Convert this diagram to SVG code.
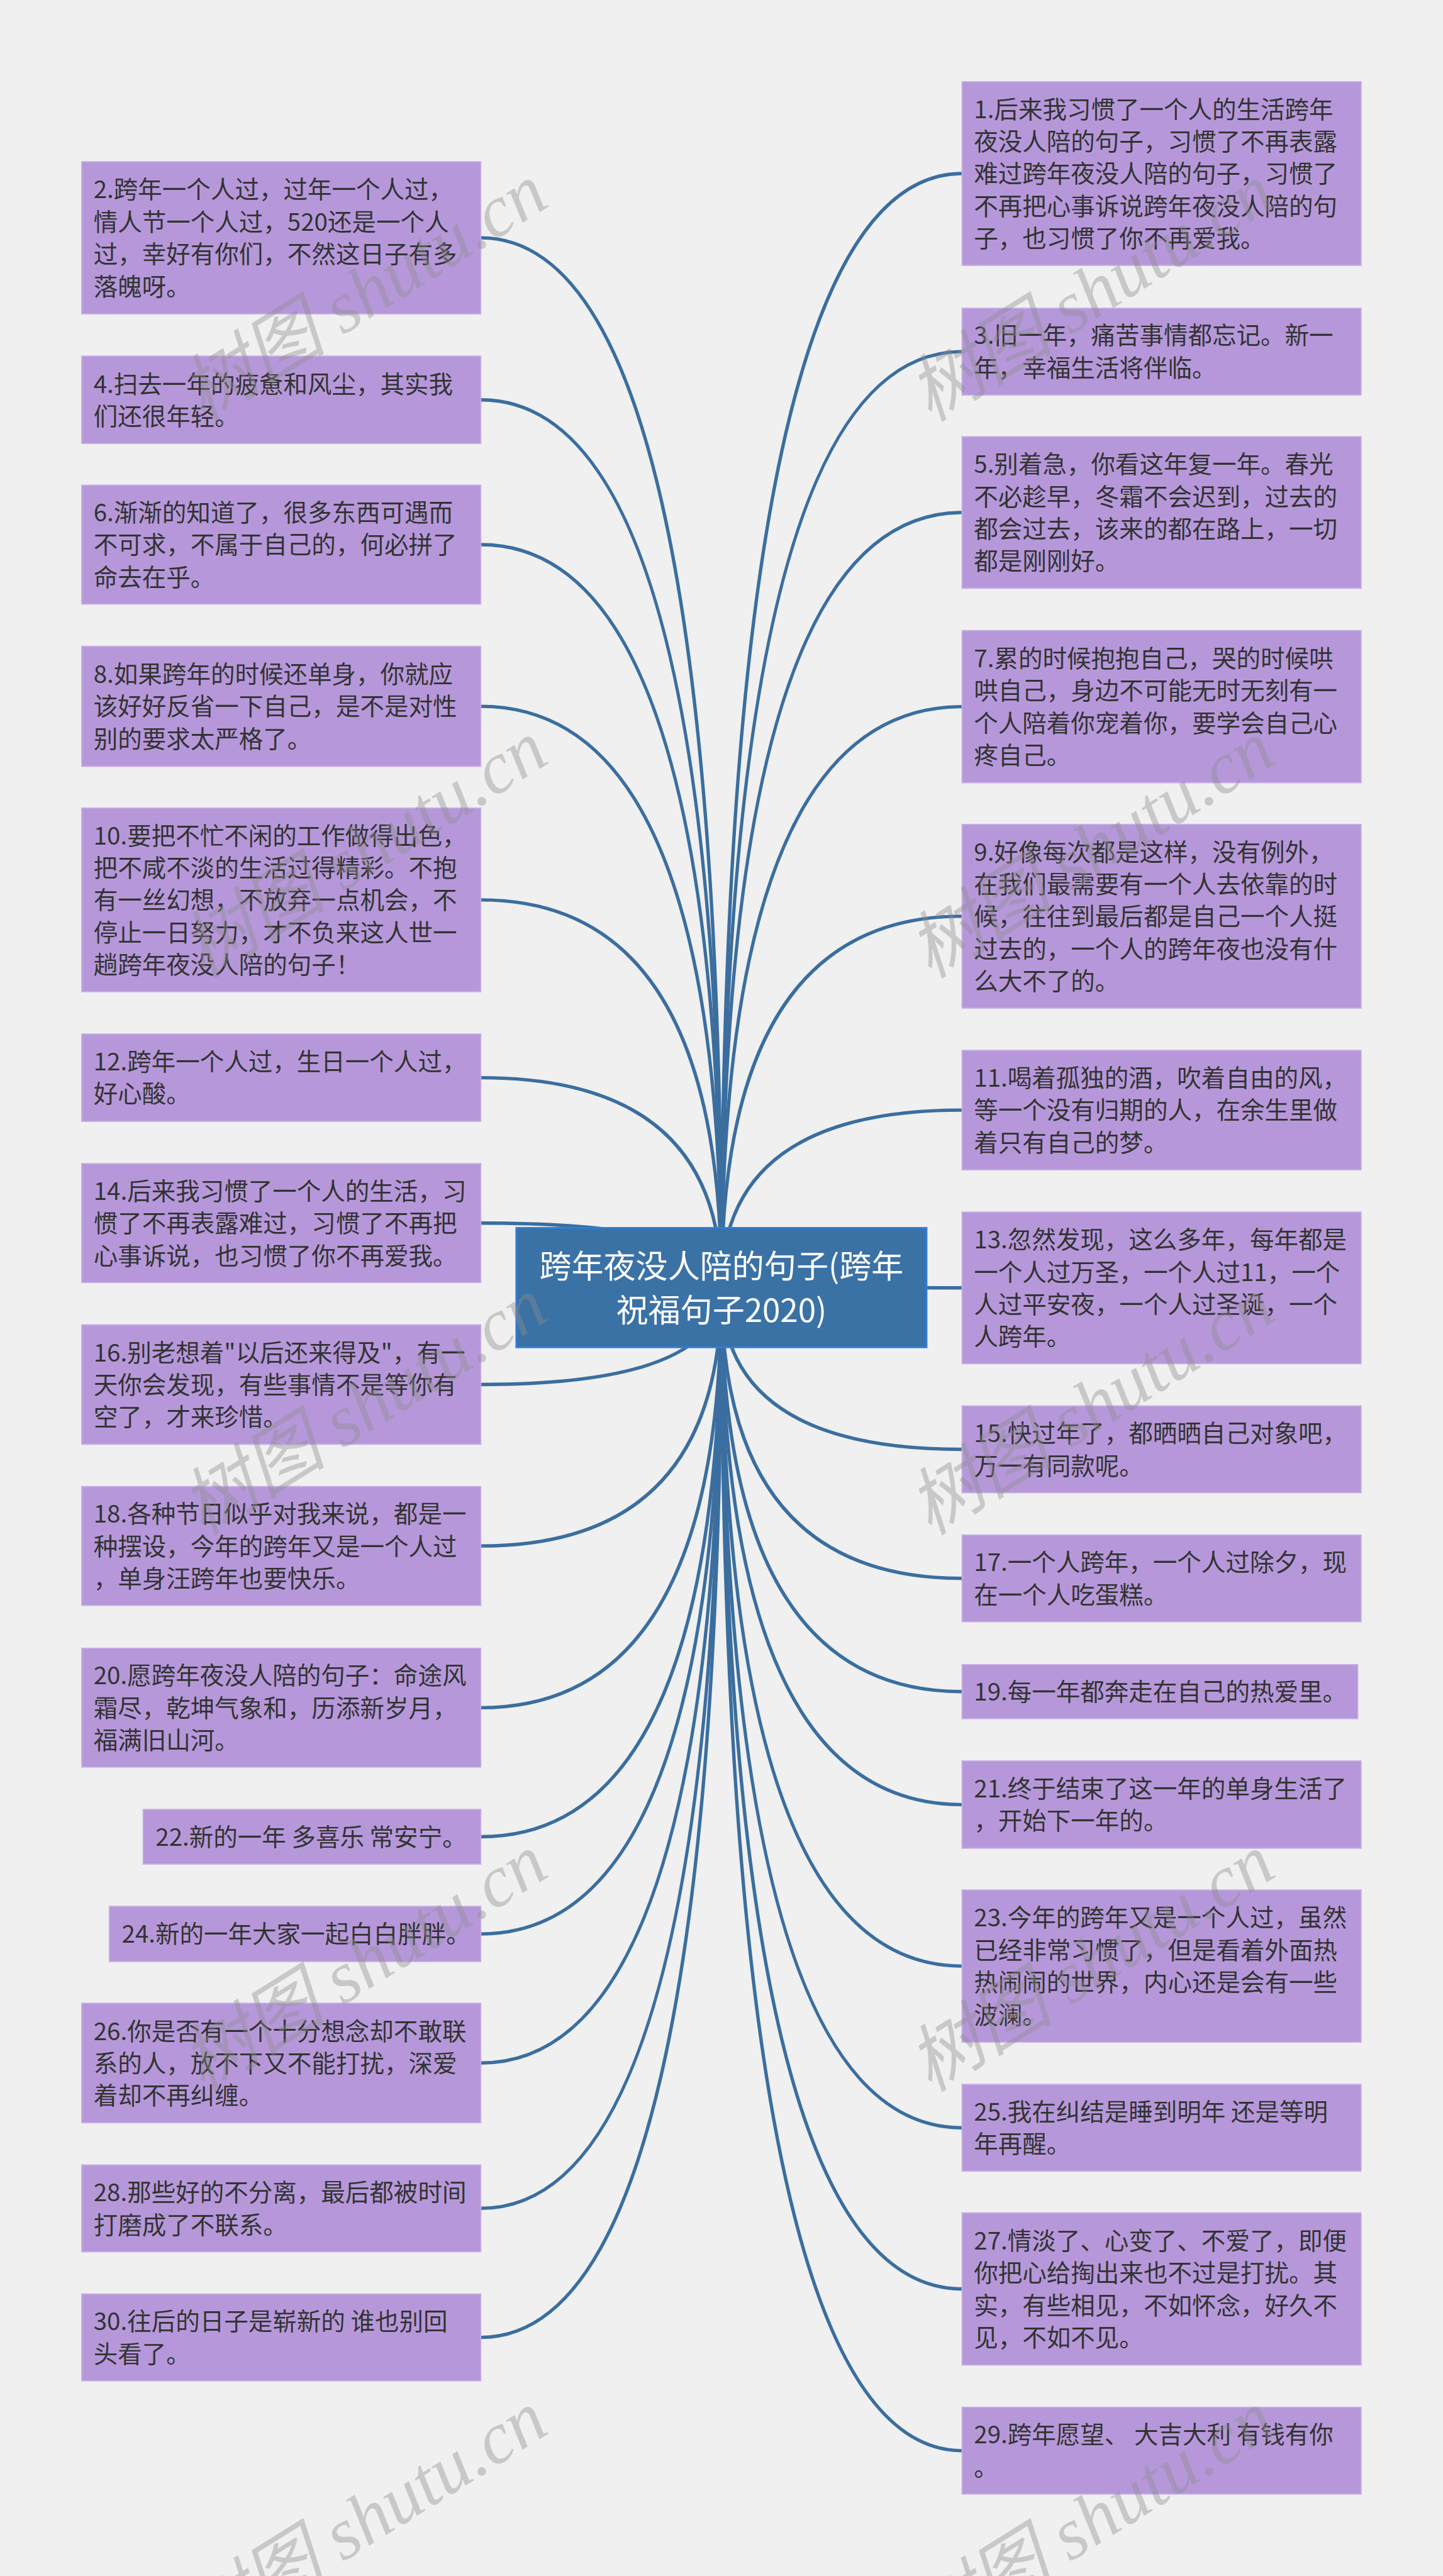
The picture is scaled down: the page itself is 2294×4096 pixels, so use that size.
<svg xmlns="http://www.w3.org/2000/svg" width="2294" height="4096" viewBox="0 0 2294 4096">
<style>
.bx{fill:#b698da;stroke:#c6aee6;stroke-width:2}
.tx{font-family:"Noto Sans CJK SC","Noto Sans",sans-serif;font-size:43px;fill:#333333}
.ln{fill:none;stroke:#3b6e9f;stroke-width:6}
.rb{fill:#3b72a5;stroke:#2f7fdb;stroke-width:3}
.rt{font-family:"Noto Sans CJK SC","Noto Sans",sans-serif;font-size:57px;fill:#ffffff;text-anchor:middle}
.wm{font-family:"Liberation Serif","Noto Sans CJK SC",serif;font-style:italic;font-size:130px;fill:#8c8c8c;fill-opacity:0.4}
</style>
<rect x="0" y="0" width="2294" height="4096" fill="#f0f0f0"/>
<g transform="scale(0.896)">
<g id="connectors">
<path class="ln" d="M1280,2285 Q1280,422 853,422"/>
<path class="ln" d="M1280,2285 Q1280,709.5 853,709.5"/>
<path class="ln" d="M1280,2285 Q1280,966.5 853,966.5"/>
<path class="ln" d="M1280,2285 Q1280,1253.5 853,1253.5"/>
<path class="ln" d="M1280,2285 Q1280,1597 853,1597"/>
<path class="ln" d="M1280,2285 Q1280,1912.5 853,1912.5"/>
<path class="ln" d="M1280,2285 Q1280,2170.5 853,2170.5"/>
<path class="ln" d="M1280,2285 Q1280,2457 853,2457"/>
<path class="ln" d="M1280,2285 Q1280,2743.5 853,2743.5"/>
<path class="ln" d="M1280,2285 Q1280,3030.5 853,3030.5"/>
<path class="ln" d="M1280,2285 Q1280,3259.5 853,3259.5"/>
<path class="ln" d="M1280,2285 Q1280,3432 853,3432"/>
<path class="ln" d="M1280,2285 Q1280,3661 853,3661"/>
<path class="ln" d="M1280,2285 Q1280,3919 853,3919"/>
<path class="ln" d="M1280,2285 Q1280,4148 853,4148"/>
<path class="ln" d="M1280,2285 Q1280,308 1707,308"/>
<path class="ln" d="M1280,2285 Q1280,624 1707,624"/>
<path class="ln" d="M1280,2285 Q1280,909.5 1707,909.5"/>
<path class="ln" d="M1280,2285 Q1280,1254 1707,1254"/>
<path class="ln" d="M1280,2285 Q1280,1626 1707,1626"/>
<path class="ln" d="M1280,2285 Q1280,1970 1707,1970"/>
<path class="ln" d="M1280,2285 Q1280,2285.5 1707,2285.5"/>
<path class="ln" d="M1280,2285 Q1280,2572 1707,2572"/>
<path class="ln" d="M1280,2285 Q1280,2801 1707,2801"/>
<path class="ln" d="M1280,2285 Q1280,3002 1707,3002"/>
<path class="ln" d="M1280,2285 Q1280,3202.5 1707,3202.5"/>
<path class="ln" d="M1280,2285 Q1280,3489 1707,3489"/>
<path class="ln" d="M1280,2285 Q1280,3776 1707,3776"/>
<path class="ln" d="M1280,2285 Q1280,4062 1707,4062"/>
<path class="ln" d="M1280,2285 Q1280,4349 1707,4349"/>
</g>
<g id="root">
<rect class="rb" x="916" y="2179" width="728" height="212"/>
<text class="rt" x="1280" y="2268">跨年夜没人陪的句子(跨年</text>
<text class="rt" x="1280" y="2346">祝福句子2020)</text>
</g>
<g id="n2"><rect class="bx" x="145" y="287" width="708" height="270"/>
<text class="tx" x="166" y="352">2.跨年一个人过，过年一个人过，</text>
<text class="tx" x="166" y="409.4">情人节一个人过，520还是一个人</text>
<text class="tx" x="166" y="466.7">过，幸好有你们，不然这日子有多</text>
<text class="tx" x="166" y="524">落魄呀。</text></g>
<g id="n4"><rect class="bx" x="145" y="632" width="708" height="155"/>
<text class="tx" x="166" y="697">4.扫去一年的疲惫和风尘，其实我</text>
<text class="tx" x="166" y="754">们还很年轻。</text></g>
<g id="n6"><rect class="bx" x="145" y="861" width="708" height="211"/>
<text class="tx" x="166" y="925">6.渐渐的知道了，很多东西可遇而</text>
<text class="tx" x="166" y="982.5">不可求，不属于自己的，何必拼了</text>
<text class="tx" x="166" y="1040">命去在乎。</text></g>
<g id="n8"><rect class="bx" x="145" y="1147" width="708" height="213"/>
<text class="tx" x="166" y="1212">8.如果跨年的时候还单身，你就应</text>
<text class="tx" x="166" y="1269.5">该好好反省一下自己，是不是对性</text>
<text class="tx" x="166" y="1327">别的要求太严格了。</text></g>
<g id="n10"><rect class="bx" x="145" y="1434" width="708" height="326"/>
<text class="tx" x="166" y="1498.4">10.要把不忙不闲的工作做得出色，</text>
<text class="tx" x="166" y="1555.7">把不咸不淡的生活过得精彩。不抱</text>
<text class="tx" x="166" y="1613">有一丝幻想，不放弃一点机会，不</text>
<text class="tx" x="166" y="1670.3">停止一日努力，才不负来这人世一</text>
<text class="tx" x="166" y="1727.6">趟跨年夜没人陪的句子！</text></g>
<g id="n12"><rect class="bx" x="145" y="1835" width="708" height="155"/>
<text class="tx" x="166" y="1900">12.跨年一个人过，生日一个人过，</text>
<text class="tx" x="166" y="1957">好心酸。</text></g>
<g id="n14"><rect class="bx" x="145" y="2065" width="708" height="211"/>
<text class="tx" x="166" y="2129">14.后来我习惯了一个人的生活，习</text>
<text class="tx" x="166" y="2186.5">惯了不再表露难过，习惯了不再把</text>
<text class="tx" x="166" y="2244">心事诉说，也习惯了你不再爱我。</text></g>
<g id="n16"><rect class="bx" x="145" y="2351" width="708" height="212"/>
<text class="tx" x="166" y="2416">16.别老想着"以后还来得及"，有一</text>
<text class="tx" x="166" y="2473">天你会发现，有些事情不是等你有</text>
<text class="tx" x="166" y="2530">空了，才来珍惜。</text></g>
<g id="n18"><rect class="bx" x="145" y="2638" width="708" height="211"/>
<text class="tx" x="166" y="2702">18.各种节日似乎对我来说，都是一</text>
<text class="tx" x="166" y="2759.5">种摆设，今年的跨年又是一个人过</text>
<text class="tx" x="166" y="2817">，单身汪跨年也要快乐。</text></g>
<g id="n20"><rect class="bx" x="145" y="2925" width="708" height="211"/>
<text class="tx" x="166" y="2989">20.愿跨年夜没人陪的句子：命途风</text>
<text class="tx" x="166" y="3046.5">霜尽，乾坤气象和，历添新岁月，</text>
<text class="tx" x="166" y="3104">福满旧山河。</text></g>
<g id="n22"><rect class="bx" x="254" y="3211" width="599" height="97"/>
<text class="tx" x="276" y="3275.5">22.新的一年 多喜乐 常安宁。</text></g>
<g id="n24"><rect class="bx" x="194" y="3383" width="659" height="98"/>
<text class="tx" x="216" y="3448">24.新的一年大家一起白白胖胖。</text></g>
<g id="n26"><rect class="bx" x="145" y="3555" width="708" height="212"/>
<text class="tx" x="166" y="3620">26.你是否有一个十分想念却不敢联</text>
<text class="tx" x="166" y="3677">系的人，放不下又不能打扰，深爱</text>
<text class="tx" x="166" y="3734">着却不再纠缠。</text></g>
<g id="n28"><rect class="bx" x="145" y="3842" width="708" height="154"/>
<text class="tx" x="166" y="3906">28.那些好的不分离，最后都被时间</text>
<text class="tx" x="166" y="3964">打磨成了不联系。</text></g>
<g id="n30"><rect class="bx" x="145" y="4071" width="708" height="154"/>
<text class="tx" x="166" y="4135">30.往后的日子是崭新的 谁也别回</text>
<text class="tx" x="166" y="4193">头看了。</text></g>
<g id="n1"><rect class="bx" x="1707" y="145" width="708" height="326"/>
<text class="tx" x="1728" y="209.4">1.后来我习惯了一个人的生活跨年</text>
<text class="tx" x="1728" y="266.7">夜没人陪的句子，习惯了不再表露</text>
<text class="tx" x="1728" y="324">难过跨年夜没人陪的句子，习惯了</text>
<text class="tx" x="1728" y="381.3">不再把心事诉说跨年夜没人陪的句</text>
<text class="tx" x="1728" y="438.6">子，也习惯了你不再爱我。</text></g>
<g id="n3"><rect class="bx" x="1707" y="547" width="708" height="154"/>
<text class="tx" x="1728" y="611">3.旧一年，痛苦事情都忘记。新一</text>
<text class="tx" x="1728" y="669">年，幸福生活将伴临。</text></g>
<g id="n5"><rect class="bx" x="1707" y="775" width="708" height="269"/>
<text class="tx" x="1728" y="839.5">5.别着急，你看这年复一年。春光</text>
<text class="tx" x="1728" y="897">不必趁早，冬霜不会迟到，过去的</text>
<text class="tx" x="1728" y="954">都会过去，该来的都在路上，一切</text>
<text class="tx" x="1728" y="1011.5">都是刚刚好。</text></g>
<g id="n7"><rect class="bx" x="1707" y="1119" width="708" height="270"/>
<text class="tx" x="1728" y="1184">7.累的时候抱抱自己，哭的时候哄</text>
<text class="tx" x="1728" y="1241.4">哄自己，身边不可能无时无刻有一</text>
<text class="tx" x="1728" y="1298.7">个人陪着你宠着你，要学会自己心</text>
<text class="tx" x="1728" y="1356">疼自己。</text></g>
<g id="n9"><rect class="bx" x="1707" y="1463" width="708" height="326"/>
<text class="tx" x="1728" y="1527.4">9.好像每次都是这样，没有例外，</text>
<text class="tx" x="1728" y="1584.7">在我们最需要有一个人去依靠的时</text>
<text class="tx" x="1728" y="1642">候，往往到最后都是自己一个人挺</text>
<text class="tx" x="1728" y="1699.3">过去的，一个人的跨年夜也没有什</text>
<text class="tx" x="1728" y="1756.6">么大不了的。</text></g>
<g id="n11"><rect class="bx" x="1707" y="1864" width="708" height="212"/>
<text class="tx" x="1728" y="1928.7">11.喝着孤独的酒，吹着自由的风，</text>
<text class="tx" x="1728" y="1986">等一个没有归期的人，在余生里做</text>
<text class="tx" x="1728" y="2043.3">着只有自己的梦。</text></g>
<g id="n13"><rect class="bx" x="1707" y="2151" width="708" height="269"/>
<text class="tx" x="1728" y="2215.5">13.忽然发现，这么多年，每年都是</text>
<text class="tx" x="1728" y="2273">一个人过万圣，一个人过11，一个</text>
<text class="tx" x="1728" y="2330">人过平安夜，一个人过圣诞，一个</text>
<text class="tx" x="1728" y="2387.5">人跨年。</text></g>
<g id="n15"><rect class="bx" x="1707" y="2495" width="708" height="154"/>
<text class="tx" x="1728" y="2559.4">15.快过年了，都晒晒自己对象吧，</text>
<text class="tx" x="1728" y="2616.7">万一有同款呢。</text></g>
<g id="n17"><rect class="bx" x="1707" y="2724" width="708" height="154"/>
<text class="tx" x="1728" y="2788.4">17.一个人跨年，一个人过除夕，现</text>
<text class="tx" x="1728" y="2845.7">在一个人吃蛋糕。</text></g>
<g id="n19"><rect class="bx" x="1707" y="2954" width="702" height="96"/>
<text class="tx" x="1728" y="3018">19.每一年都奔走在自己的热爱里。</text></g>
<g id="n21"><rect class="bx" x="1707" y="3125" width="708" height="155"/>
<text class="tx" x="1728" y="3190">21.终于结束了这一年的单身生活了</text>
<text class="tx" x="1728" y="3247">，开始下一年的。</text></g>
<g id="n23"><rect class="bx" x="1707" y="3354" width="708" height="270"/>
<text class="tx" x="1728" y="3419">23.今年的跨年又是一个人过，虽然</text>
<text class="tx" x="1728" y="3476.4">已经非常习惯了，但是看着外面热</text>
<text class="tx" x="1728" y="3533.7">热闹闹的世界，内心还是会有一些</text>
<text class="tx" x="1728" y="3591">波澜。</text></g>
<g id="n25"><rect class="bx" x="1707" y="3699" width="708" height="154"/>
<text class="tx" x="1728" y="3763.4">25.我在纠结是睡到明年 还是等明</text>
<text class="tx" x="1728" y="3820.7">年再醒。</text></g>
<g id="n27"><rect class="bx" x="1707" y="3927" width="708" height="270"/>
<text class="tx" x="1728" y="3992">27.情淡了、心变了、不爱了，即便</text>
<text class="tx" x="1728" y="4049.4">你把心给掏出来也不过是打扰。其</text>
<text class="tx" x="1728" y="4106.7">实，有些相见，不如怀念，好久不</text>
<text class="tx" x="1728" y="4164">见，不如不见。</text></g>
<g id="n29"><rect class="bx" x="1707" y="4272" width="708" height="154"/>
<text class="tx" x="1728" y="4336.4">29.跨年愿望、 大吉大利 有钱有你</text>
<text class="tx" x="1728" y="4393.7">。</text></g>
<g id="watermarks">
<text class="wm" transform="translate(360,750) rotate(-32)">树图 shutu.cn</text>
<text class="wm" transform="translate(1650,750) rotate(-32)">树图 shutu.cn</text>
<text class="wm" transform="translate(360,1738) rotate(-32)">树图 shutu.cn</text>
<text class="wm" transform="translate(1650,1738) rotate(-32)">树图 shutu.cn</text>
<text class="wm" transform="translate(360,2726) rotate(-32)">树图 shutu.cn</text>
<text class="wm" transform="translate(1650,2726) rotate(-32)">树图 shutu.cn</text>
<text class="wm" transform="translate(360,3714) rotate(-32)">树图 shutu.cn</text>
<text class="wm" transform="translate(1650,3714) rotate(-32)">树图 shutu.cn</text>
<text class="wm" transform="translate(360,4702) rotate(-32)">树图 shutu.cn</text>
<text class="wm" transform="translate(1650,4702) rotate(-32)">树图 shutu.cn</text>
</g>
</g>
</svg>
